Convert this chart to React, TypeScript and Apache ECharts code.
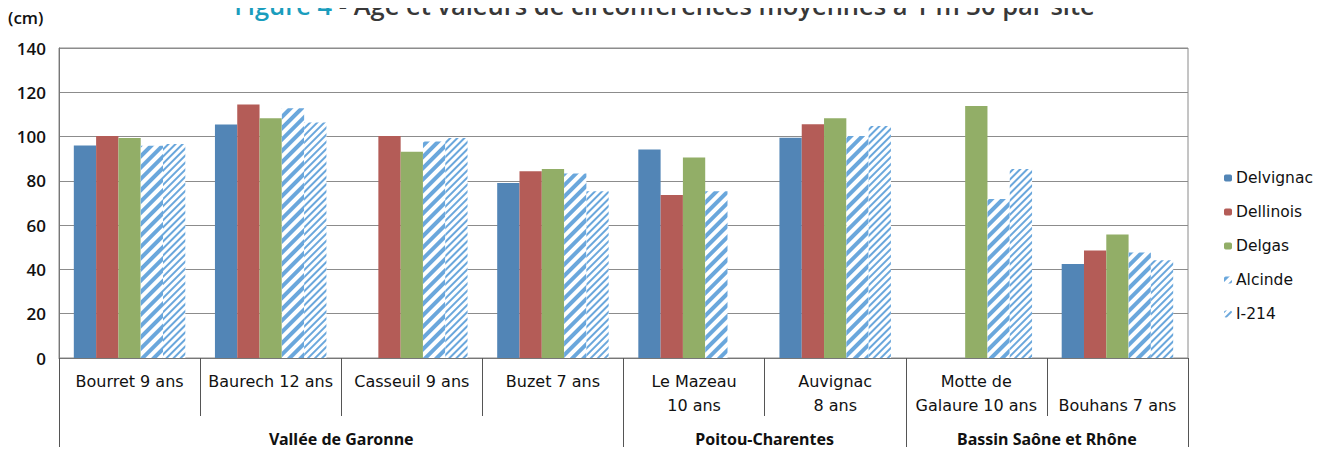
import React, { useEffect, useRef } from "react";
import * as echarts from "echarts";

const sites = [
  "Bourret 9 ans",
  "Baurech 12 ans",
  "Casseuil 9 ans",
  "Buzet 7 ans",
  "Le Mazeau\n10 ans",
  "Auvignac\n8 ans",
  "Motte de\nGalaure 10 ans",
  "\nBouhans 7 ans",
];
const groups = ["Vallée de Garonne", "Poitou-Charentes", "Bassin Saône et Rhône"];
const groupBounds = [0, 4, 6, 8];
const groupCenters = [2, 5, 7];

const delvignac = [96, 105.5, null, 79, 94.2, 99.5, null, 42.5];
const dellinois = [100.3, 114.5, 100.3, 84.3, 73.6, 105.6, null, 48.6];
const delgas = [99.4, 108.3, 93.2, 85.3, 90.6, 108.3, 113.8, 55.8];
const alcinde = [95.8, 112.8, 97.8, 83.3, 75.3, 100.3, 71.8, 47.7];
const i214 = [96.7, 106.4, 99.4, 75.3, null, 104.8, 85.3, 44.2];

const yTicks = { min: 0, max: 140, interval: 20 };

const LABEL_FONT = "DejaVu Sans";
const BOLD_FONT = "Noto Sans";
const STRIPE = "#6aa7dc";

export default function App() {
  const ref = useRef<HTMLDivElement>(null);
  useEffect(() => {
    if (!ref.current) return;
    const chart = echarts.init(ref.current, null, { renderer: "svg" });
    const solid = (name: string, data: (number | null)[], color: string) => ({
      name,
      type: "bar",
      data,
      barGap: "0%",
      barCategoryGap: "21%",
      itemStyle: { color },
    });
    const hatched = (name: string, data: (number | null)[], dashY: number[]) => ({
      name,
      type: "bar",
      data,
      barGap: "0%",
      barCategoryGap: "21%",
      itemStyle: {
        color: "#ffffff",
        decal: {
          symbol: "rect",
          symbolSize: 1,
          color: STRIPE,
          backgroundColor: "#ffffff",
          dashArrayX: [1, 0],
          dashArrayY: dashY,
          rotation: -Math.PI / 4,
        },
      },
    });
    chart.setOption({
      animation: false,
      title: {
        text: "{a|Figure 4} - Âge et valeurs de circonférences moyennes à 1 m 30 par site",
        left: "center",
        top: -13,
        textStyle: {
          fontFamily: "Open Sans",
          fontSize: 25.5,
          fontWeight: 600,
          color: "#383838",
          rich: {
            a: { fontFamily: "Open Sans", fontSize: 25.5, fontWeight: 600, color: "#1a9dbd" },
          },
        },
      },
      graphic: [
        {
          type: "text",
          left: 8,
          top: 9,
          style: {
            text: "(cm)",
            fontFamily: "Open Sans",
            fontSize: 17,
            fontWeight: 600,
            fill: "#111",
          },
        },
      ],
      legend: {
        orient: "vertical",
        left: 1224,
        top: 168,
        padding: 0,
        itemWidth: 8,
        itemHeight: 7,
        itemGap: 14,
        itemStyle: { borderWidth: 0 },
        textStyle: {
          fontFamily: LABEL_FONT,
          fontSize: 15.5,
          lineHeight: 20,
          color: "#111",
          padding: [0, 0, 0, -1],
        },
        data: ["Delvignac", "Dellinois", "Delgas", "Alcinde", "I-214"],
      },
      grid: {
        left: 59,
        right: 141,
        top: 48,
        bottom: 112,
        show: true,
        borderColor: "#8a8a8a",
        borderWidth: 1,
      },
      xAxis: [
        {
          type: "category",
          data: sites,
          position: "bottom",
          axisLine: { lineStyle: { color: "#777", width: 1 } },
          axisTick: { show: true, length: 58, lineStyle: { color: "#555" } },
          axisLabel: {
            interval: 0,
            margin: 11,
            verticalAlign: "top",
            lineHeight: 24,
            fontFamily: LABEL_FONT,
            fontSize: 16,
            color: "#111",
          },
        },
        {
          type: "value",
          position: "bottom",
          min: 0,
          max: 8,
          axisLine: { show: false },
          splitLine: { show: false },
          axisTick: {
            show: true,
            customValues: groupBounds,
            length: 89,
            lineStyle: { color: "#555" },
          },
          axisLabel: {
            customValues: groupCenters,
            formatter: (v: number) => groups[groupCenters.indexOf(v)] ?? "",
            margin: 71,
            verticalAlign: "top",
            lineHeight: 20,
            fontFamily: BOLD_FONT,
            fontSize: 16,
            fontWeight: "bold",
            color: "#111",
          },
        },
      ],
      yAxis: {
        type: "value",
        min: yTicks.min,
        max: yTicks.max,
        interval: yTicks.interval,
        axisLine: { show: true, lineStyle: { color: "#777" } },
        axisTick: { show: false },
        splitLine: { lineStyle: { color: "#8c8c8c", width: 1 } },
        axisLabel: {
          margin: 13,
          fontFamily: "Open Sans",
          fontSize: 17,
          fontWeight: 600,
          color: "#111",
        },
      },
      series: [
        solid("Delvignac", delvignac, "#5285b6"),
        solid("Dellinois", dellinois, "#b45c57"),
        solid("Delgas", delgas, "#92ae67"),
        hatched("Alcinde", alcinde, [4, 4]),
        hatched("I-214", i214, [2, 3]),
      ],
    });
    return () => chart.dispose();
  }, []);
  return <div ref={ref} style={{ width: 1329, height: 470, margin: -8 }} />;
}
